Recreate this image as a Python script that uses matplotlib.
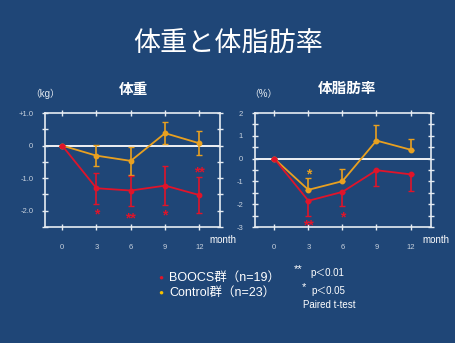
import matplotlib
matplotlib.use("Agg")
import matplotlib.pyplot as plt
import matplotlib.transforms as mtransforms
import numpy as np
from matplotlib.ticker import MultipleLocator

plt.rcParams['font.family'] = ['Liberation Sans', 'Noto Sans CJK JP', 'DejaVu Sans']

BG = '#1F4677'
RED = '#E0142A'
ORANGE = '#E8A020'
FG = '#E6ECF2'

months = [0, 3, 6, 9, 12]

# Weight (kg change)
w_boocs = [0, -1.31, -1.38, -1.23, -1.52]
w_boocs_err = [0, 0.47, 0.46, 0.59, 0.54]
w_ctrl = [0, -0.31, -0.47, 0.38, 0.07]
w_ctrl_err = [0, 0.32, 0.43, 0.34, 0.37]
w_yticks = [1.0, 0, -1.0, -2.0]
w_yticklabels = ['+1.0', '0', '-1.0', '-2.0']
w_stars_x = [3, 6, 9, 12]
w_stars_y = [-2.0, -2.12, -2.05, -0.71]
w_stars = ['*', '**', '*', '**']

# Body fat (% change)
f_boocs = [0, -1.85, -1.46, -0.51, -0.69]
f_boocs_err = [0, 0.68, 0.63, 0.70, 0.74]
f_ctrl = [0, -1.37, -0.99, 0.79, 0.39]
f_ctrl_err = [0, 0.52, 0.55, 0.67, 0.47]
f_yticks = [2, 1, 0, -1, -2, -3]
f_yticklabels = ['2', '1', '0', '-1', '-2', '-3']
f_stars_x = [3, 3, 6]
f_stars_y = [-0.53, -2.79, -2.42]
f_stars = ['*', '**', '*']
f_stars_col = ['orange', 'red', 'red']

fig = plt.figure(figsize=(4.56, 3.43), dpi=100, facecolor=BG)

def style_ax(ax, ylim, yticks, yticklabels, xlim):
    ax.set_facecolor(BG)
    for s in ax.spines.values():
        s.set_color(FG)
        s.set_linewidth(1.2)
    ax.set_xlim(*xlim)
    ax.set_ylim(*ylim)
    ax.set_xticks(months)
    ax.set_xticklabels([str(m) for m in months])
    ax.set_yticks(yticks)
    ax.set_yticklabels(yticklabels)
    ax.yaxis.set_minor_locator(MultipleLocator(0.5))
    ax.tick_params(axis='both', which='both', direction='inout', colors=FG,
                   top=True, right=True, labelsize=5.5, width=1)
    ax.tick_params(axis='x', which='major', length=4, pad=10)
    ax.tick_params(axis='y', which='major', length=5, pad=6)
    ax.tick_params(axis='y', which='minor', length=4)
    for lab in ax.get_xticklabels() + ax.get_yticklabels():
        lab.set_color('#C8D2DE')
    ax.axhline(0, color='white', lw=1.3, zorder=1)

# Left: weight
ax1 = fig.add_axes([45/456, 116/343, 175/456, 114/343])
style_ax(ax1, (-2.5, 1.0), w_yticks, w_yticklabels, (-1.5, 13.8))
ax1.errorbar(months, w_ctrl, yerr=w_ctrl_err, color=ORANGE, marker='o', ms=3.2,
             lw=1.3, capsize=2, elinewidth=1.2, zorder=3)
ax1.errorbar(months, w_boocs, yerr=w_boocs_err, color=RED, marker='o', ms=3.2,
             lw=1.3, capsize=2, elinewidth=1.2, zorder=4)
star_tr1 = mtransforms.offset_copy(ax1.transData, fig=fig, y=-3.5, units='dots')
for x, y, s in zip(w_stars_x, w_stars_y, w_stars):
    ax1.text(x, y, s, color=RED, fontsize=10, fontweight='bold', ha='center', va='center',
             transform=star_tr1)
fig.text(133/456, 1 - 90/343, '体重', color='white', fontsize=10.5, fontweight='bold',
         ha='center', va='center')
fig.text(45/456, 1 - 94/343, '（kg）', color=FG, fontsize=7, ha='center', va='center')
fig.text(209/456, 1 - 240/343, 'month', color='white', fontsize=7, ha='left', va='center')

# Right: body fat
ax2 = fig.add_axes([255/456, 116/343, 176/456, 114/343])
style_ax(ax2, (-3, 2), f_yticks, f_yticklabels, (-1.7, 13.8))
ax2.errorbar(months, f_ctrl, yerr=[np.zeros(len(f_ctrl_err)), f_ctrl_err], color=ORANGE,
             marker='o', ms=3.2, lw=1.3, capsize=2, elinewidth=1.2, zorder=3)
ax2.errorbar(months, f_boocs, yerr=[f_boocs_err, np.zeros(len(f_boocs_err))], color=RED,
             marker='o', ms=3.2, lw=1.3, capsize=2, elinewidth=1.2, zorder=4)
star_tr2 = mtransforms.offset_copy(ax2.transData, fig=fig, y=-3.5, units='dots')
for x, y, s, c in zip(f_stars_x, f_stars_y, f_stars, f_stars_col):
    ax2.text(x, y, s, color=RED if c == 'red' else ORANGE, fontsize=10,
             fontweight='bold', ha='center', va='center', transform=star_tr2)
fig.text(347/456, 1 - 89/343, '体脂肪率', color='white', fontsize=10.5, fontweight='bold',
         ha='center', va='center')
fig.text(263/456, 1 - 94/343, '（%）', color=FG, fontsize=7, ha='center', va='center')
fig.text(422/456, 1 - 240/343, 'month', color='white', fontsize=7, ha='left', va='center')

# Main title
fig.text(228/456, 1 - 45/343, '体重と体脂肪率', color='white', fontsize=19.5,
         ha='center', va='center')

# Legend
fig.text(158/456, 1 - 278/343, '●', color=RED, fontsize=6, ha='left', va='center')
fig.text(169/456, 1 - 278/343, 'BOOCS群（n=19）', color='white', fontsize=9, ha='left', va='center')
fig.text(158/456, 1 - 293/343, '●', color='#F5C000', fontsize=6, ha='left', va='center')
fig.text(169/456, 1 - 293/343, 'Control群（n=23）', color='white', fontsize=9, ha='left', va='center')

fig.text(294/456, 1 - 269/343, '**', color='white', fontsize=8, ha='left', va='center')
fig.text(310/456, 1 - 273/343, 'p＜0.01', color='white', fontsize=7, ha='left', va='center')
fig.text(302/456, 1 - 287/343, '*', color='white', fontsize=8, ha='left', va='center')
fig.text(311/456, 1 - 291/343, 'p＜0.05', color='white', fontsize=7, ha='left', va='center')
fig.text(303/456, 1 - 305/343, 'Paired t-test', color='white', fontsize=7, ha='left', va='center')

fig.savefig('out.png', dpi=100, facecolor=BG)
